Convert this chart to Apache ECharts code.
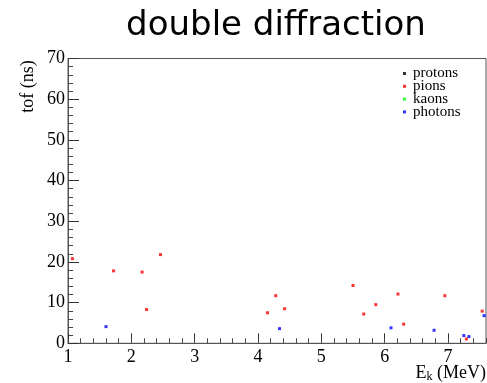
<!DOCTYPE html>
<html>
<head>
<meta charset="utf-8">
<script src="https://cdn.jsdelivr.net/npm/echarts@6/dist/echarts.min.js"></script>
<style>
html,body{margin:0;padding:0;background:#fff;}
#chart{width:487px;height:383px;}
</style>
</head>
<body>
<div id="chart"></div>
<script>
var titleText = 'double diffraction';
var xName = 'E';
var xNameSub = 'k';
var xNameUnit = ' (MeV)';
var yName = 'tof (ns)';
var seriesNames = ['protons', 'pions', 'kaons', 'photons'];
var seriesColors = ['#000000', '#ff0000', '#00ff00', '#0000ff'];

var protonsX = [];
var protonsY = [];
var pionsX = [1.07, 1.72, 2.17, 2.24, 2.46, 4.15, 4.28, 4.42, 5.50, 5.67, 5.86, 6.21, 6.30, 6.95, 7.29, 7.54];
var pionsY = [20.8, 17.8, 17.5, 8.3, 21.8, 7.5, 11.7, 8.5, 14.2, 7.2, 9.5, 12.1, 4.7, 11.7, 1.06, 7.9];
var kaonsX = [];
var kaonsY = [];
var photonsX = [1.60, 4.34, 6.10, 6.78, 7.25, 7.33, 7.57];
var photonsY = [4.1, 3.6, 3.8, 3.2, 1.9, 1.65, 6.8];

var xMin = 1, xMax = 7.6, xInterval = 1, xMinorInterval = 0.2;
var yMin = 0, yMax = 70, yInterval = 10;

function pairs(xs, ys) {
  var out = [];
  for (var i = 0; i < xs.length; i++) out.push([xs[i], ys[i]]);
  return out;
}
var allData = [pairs(protonsX, protonsY), pairs(pionsX, pionsY), pairs(kaonsX, kaonsY), pairs(photonsX, photonsY)];

var serif = '"Liberation Serif", "DejaVu Serif", serif';
var chart = echarts.init(document.getElementById('chart'), null, {renderer: 'canvas'});

var series = seriesNames.map(function (n, i) {
  return {
    name: n,
    type: 'scatter',
    xAxisIndex: 0,
    yAxisIndex: 0,
    symbol: 'rect',
    symbolSize: 3,
    itemStyle: {color: seriesColors[i]},
    data: allData[i],
    animation: false
  };
});

chart.setOption({
  animation: false,
  grid: {left: 68, right: 1, top: 58.5, bottom: 39.7, show: true, borderColor: '#555', borderWidth: 1, backgroundColor: 'transparent'},
  legend: {
    orient: 'vertical',
    left: 398,
    top: 61,
    itemWidth: 3,
    itemHeight: 3,
    itemGap: -2.2,
    icon: 'rect',
    data: seriesNames,
    textStyle: {fontFamily: serif, fontSize: 15, color: '#000', padding: [0, 0, 0, 2]}
  },
  xAxis: [{
    type: 'value',
    min: xMin, max: xMax, interval: xInterval,
    position: 'bottom',
    splitLine: {show: false},
    axisLine: {lineStyle: {color: '#555', width: 1}},
    axisTick: {inside: true, length: 10, lineStyle: {color: '#333'}},
    axisLabel: {showMaxLabel: false, fontFamily: serif, fontSize: 18, color: '#000', margin: 5}
  }, {
    type: 'value',
    min: xMin, max: xMax, interval: xMinorInterval,
    position: 'bottom',
    offset: 0,
    splitLine: {show: false},
    axisLine: {show: false},
    axisTick: {inside: true, length: 5, lineStyle: {color: '#444'}},
    axisLabel: {show: false}
  }],
  yAxis: {
    type: 'value',
    min: yMin, max: yMax, interval: yInterval,
    splitLine: {show: false},
    axisLine: {lineStyle: {color: '#555', width: 1}},
    axisTick: {inside: true, length: 11, lineStyle: {color: '#333'}},
    minorTick: {show: true, splitNumber: 5, length: 5, lineStyle: {color: '#444'}},
    axisLabel: {fontFamily: serif, fontSize: 18, color: '#000', margin: 3}
  },
  graphic: [
    {type: 'text', x: 276, y: 26, style: {text: titleText, font: '34px "DejaVu Sans"', fill: '#000', align: 'center', verticalAlign: 'middle'}},
    {type: 'text', x: 28, y: 86.5, rotation: Math.PI / 2, style: {text: yName, font: '18px ' + serif, fill: '#000', align: 'center', verticalAlign: 'middle'}},
    {type: 'text', x: 486, y: 373, style: {
      text: '{a|' + xName + '}{b|' + xNameSub + '}{a|' + xNameUnit + '}',
      align: 'right', verticalAlign: 'middle',
      rich: {a: {fontFamily: serif, fontSize: 18, fill: '#000'}, b: {fontFamily: serif, fontSize: 12, fill: '#000', padding: [8, 0, 0, 0]}}
    }}
  ],
  series: series
});
</script>
</body>
</html>
